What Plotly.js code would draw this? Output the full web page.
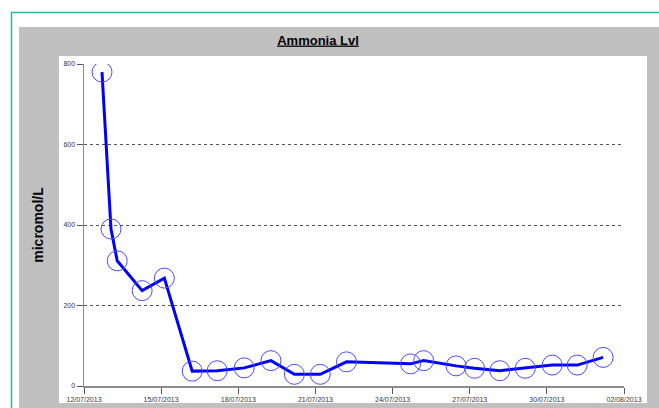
<!DOCTYPE html>
<html>
<head>
<meta charset="utf-8">
<script src="https://cdn.plot.ly/plotly-3.0.1.min.js"></script>
<style>
html,body{margin:0;padding:0;background:#fff;}
#chart{width:659px;height:408px;}
</style>
</head>
<body>
<div id="chart"></div>
<script>
var sampleDates = [
  '2013-07-12 16:48', '2013-07-13 01:12', '2013-07-13 07:00', '2013-07-14 06:15',
  '2013-07-15 03:00', '2013-07-16 05:00', '2013-07-17 04:20', '2013-07-18 05:30',
  '2013-07-19 06:30', '2013-07-20 04:20', '2013-07-21 04:30', '2013-07-22 05:00',
  '2013-07-24 16:48', '2013-07-25 05:00', '2013-07-26 11:15', '2013-07-27 04:30',
  '2013-07-28 04:05', '2013-07-29 03:50', '2013-07-30 05:00', '2013-07-31 04:20',
  '2013-08-01 04:30'
];
var ammoniaValues = [
  780, 390, 311, 237, 268, 37, 38, 45, 63, 29, 29, 60,
  55, 63, 50, 44, 38, 44, 52, 52, 71
];
var chartTitle = 'Ammonia Lvl';
var yTitle = 'micromol/L';
var xRange = ['2013-07-12', '2013-08-02'];
var yRange = [0, 800];

// plot area in pixels: x 84..624, y 64..386
var L = 84, R = 624, T = 64, B = 386, W = 659, H = 408;
function px(x){ return (x - L) / (R - L); }
function py(y){ return (B - y) / (B - T); }

var trace = {
  x: sampleDates,
  y: ammoniaValues,
  type: 'scatter',
  mode: 'lines+markers',
  line: {color: '#0000ff', width: 3},
  marker: {symbol: 'circle-open', size: 20, color: '#4a4aff', line: {color: '#4a4aff', width: 1}},
  hoverinfo: 'x+y'
};

var layout = {
  width: W, height: H,
  margin: {l: L, r: W - R, t: T, b: H - B, pad: 0},
  paper_bgcolor: '#ffffff',
  plot_bgcolor: '#ffffff',
  showlegend: false,
  font: {family: 'Liberation Sans, Arial, sans-serif', color: '#333333', size: 7},
  title: {
    text: '<u>' + chartTitle + '</u>',
    font: {family: 'Liberation Sans, Arial, sans-serif', size: 13, color: '#000000', weight: 'bold'},
    xref: 'container', x: 318 / W, xanchor: 'center',
    yref: 'container', y: 1 - 40 / H, yanchor: 'middle'
  },
  xaxis: {
    type: 'date',
    range: xRange,
    tick0: '2013-07-12',
    dtick: 3 * 24 * 3600 * 1000,
    tickformat: '%d/%m/%Y',
    ticks: 'outside', ticklen: 6, tickwidth: 1, tickcolor: '#555555',
    tickfont: {size: 7, color: '#333333'},
    showgrid: false, zeroline: false,
    showline: true, linecolor: '#8c8c8c', linewidth: 1.5,
    automargin: false, fixedrange: true
  },
  yaxis: {
    range: yRange,
    dtick: 200,
    ticks: 'outside', ticklen: 6, tickwidth: 1, tickcolor: '#555555',
    tickfont: {size: 7, color: '#333333'},
    showgrid: true, gridcolor: '#555555', gridwidth: 1, griddash: 'dot',
    zeroline: false,
    showline: true, linecolor: '#8c8c8c', linewidth: 1.5,
    automargin: false, fixedrange: true,
    title: {text: '<b>' + yTitle + '</b>', font: {size: 14, color: '#000000', family: 'Liberation Sans, Arial, sans-serif'}, standoff: 16}
  },
  shapes: [
    {type: 'rect', xref: 'paper', yref: 'paper', layer: 'below',
     x0: px(11.5), x1: px(W + 20), y0: py(H + 20), y1: py(12.5),
     line: {color: '#1abf9f', width: 1.5}, fillcolor: 'rgba(0,0,0,0)'},
    {type: 'rect', xref: 'paper', yref: 'paper', layer: 'below',
     x0: px(19), x1: px(W + 5), y0: py(H + 5), y1: py(27),
     line: {width: 0}, fillcolor: '#c0c0c0'},
    {type: 'rect', xref: 'paper', yref: 'paper', layer: 'below',
     x0: px(59), x1: px(647), y0: py(403), y1: py(56),
     line: {width: 0}, fillcolor: '#ffffff'}
  ]
};

Plotly.newPlot('chart', [trace], layout, {staticPlot: true, displayModeBar: false});
</script>
</body>
</html>
